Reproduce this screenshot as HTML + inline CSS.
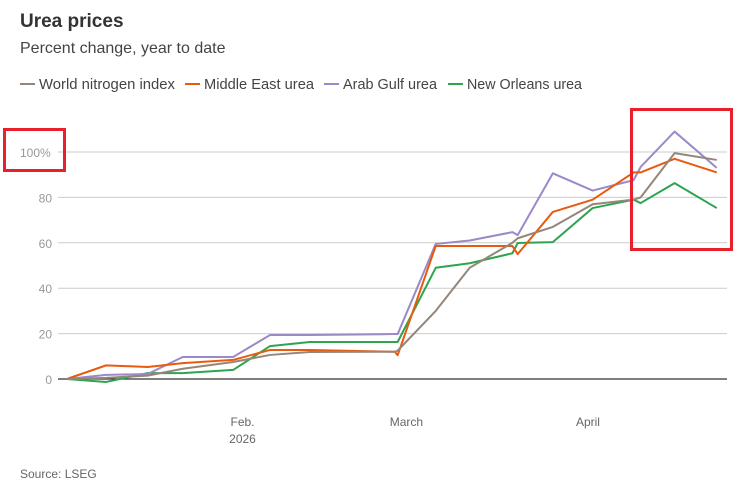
<!DOCTYPE html>
<html><head><meta charset="utf-8"><style>
body{margin:0;background:#fff;width:747px;height:493px;overflow:hidden;font-family:"Liberation Sans",sans-serif}
</style></head><body>
<svg id="c" width="747" height="493" xmlns="http://www.w3.org/2000/svg">
<text x="20" y="27" font-size="19" font-weight="bold" fill="#333">Urea prices</text>
<text x="20" y="53" font-size="16" fill="#444">Percent change, year to date</text>
<g id="legend"></g>
<g id="grid"></g>
<g id="xax"></g>
<g id="series"></g>
<text x="20" y="478" font-size="12" fill="#666">Source: LSEG</text>
<rect x="4.5" y="129.5" width="60" height="41" fill="none" stroke="#e8202a" stroke-width="3"/>
<rect x="631.5" y="109.5" width="100" height="140" fill="none" stroke="#e8202a" stroke-width="3"/>
</svg>
<script>
const days=[1,7.7,14.8,20.8,29.4,35.7,42.5,57,57.5,64,69.8,77.1,78,84,90.8,97.8,99,104.8,112];
const worldNitrogen=[0,0.5,1.5,4.5,7.5,10.6,11.9,12,12.5,30,49,60,62,67,77,79,80,99.5,96.5];
const middleEast=[0,6,5.3,7,8.4,12.8,12.8,12,10.5,58.6,58.6,58.6,55,73.6,79,91,91,97,91];
const arabGulf=[0,1.8,2.2,9.7,9.7,19.4,19.4,19.8,19.8,59.5,61,64.7,63.4,90.6,83,87.6,93.4,109,93];
const newOrleans=[0,-1.3,2.6,2.6,4,14.5,16.3,16.3,16.3,49,51,55.4,59.9,60.3,75.3,79,77.5,86.3,75.3];
const yTicks=[0,20,40,60,80,100];
const yTickLabels=["0","20","40","60","80","100%"];
const xTickDays=[31,59,90];
const xTickLabels=["Feb.","March","April"];
const seriesNames=["World nitrogen index","Middle East urea","Arab Gulf urea","New Orleans urea"];
const NS="http://www.w3.org/2000/svg";
const X=d=>61+d*5.855;
const Y=v=>379-v*2.27;
function mk(tag,attrs,parent){const e=document.createElementNS(NS,tag);for(const k in attrs)e.setAttribute(k,attrs[k]);parent.appendChild(e);return e;}
const grid=document.getElementById('grid');
yTicks.forEach((t,i)=>{
  const l=mk('line',{x1:58,x2:727,y1:Y(t),y2:Y(t),stroke:t===0?'#333':'#ccc','stroke-width':t===0?1.3:1},grid);
  
  
  const tx=mk('text',{x:t===100?20:52,y:Y(t)+5,'font-size':12,fill:'#999','text-anchor':t===100?'start':'end'},grid);
  tx.textContent=yTickLabels[i];
  
  
});
const xax=document.getElementById('xax');
xTickDays.forEach((d,i)=>{
  const tx=mk('text',{x:X(d),y:426,'font-size':12,fill:'#666','text-anchor':'middle'},xax);
  tx.textContent=xTickLabels[i];
  
  
});
const yr=mk('text',{x:X(31),y:443,'font-size':12,fill:'#666','text-anchor':'middle'},xax);
yr.textContent="2026";


const colors=['#95867a','#e85b0f','#9b89c9','#2ea44f'];
const data=[worldNitrogen,middleEast,arabGulf,newOrleans];
const sg=document.getElementById('series');
[3,2,1,0].forEach(i=>{
  const p=mk('polyline',{points:data[i].map((v,j)=>X(days[j])+','+Y(v)).join(' '),fill:'none',stroke:colors[i],'stroke-width':2,'stroke-linejoin':'round'},sg);
  
  
});
const lg=document.getElementById('legend');
const lx=[20,185,324,448];
const lw=[136,110,94,115];
seriesNames.forEach((n,i)=>{
  const l=mk('line',{x1:lx[i],x2:lx[i]+15,y1:84,y2:84,stroke:colors[i],'stroke-width':2},lg);
  
  
  const t=mk('text',{x:lx[i]+19,y:89,'font-size':14.5,fill:'#444',textLength:lw[i],lengthAdjust:'spacingAndGlyphs'},lg);
  t.textContent=n;
  
  
});
</script>
</body></html>
